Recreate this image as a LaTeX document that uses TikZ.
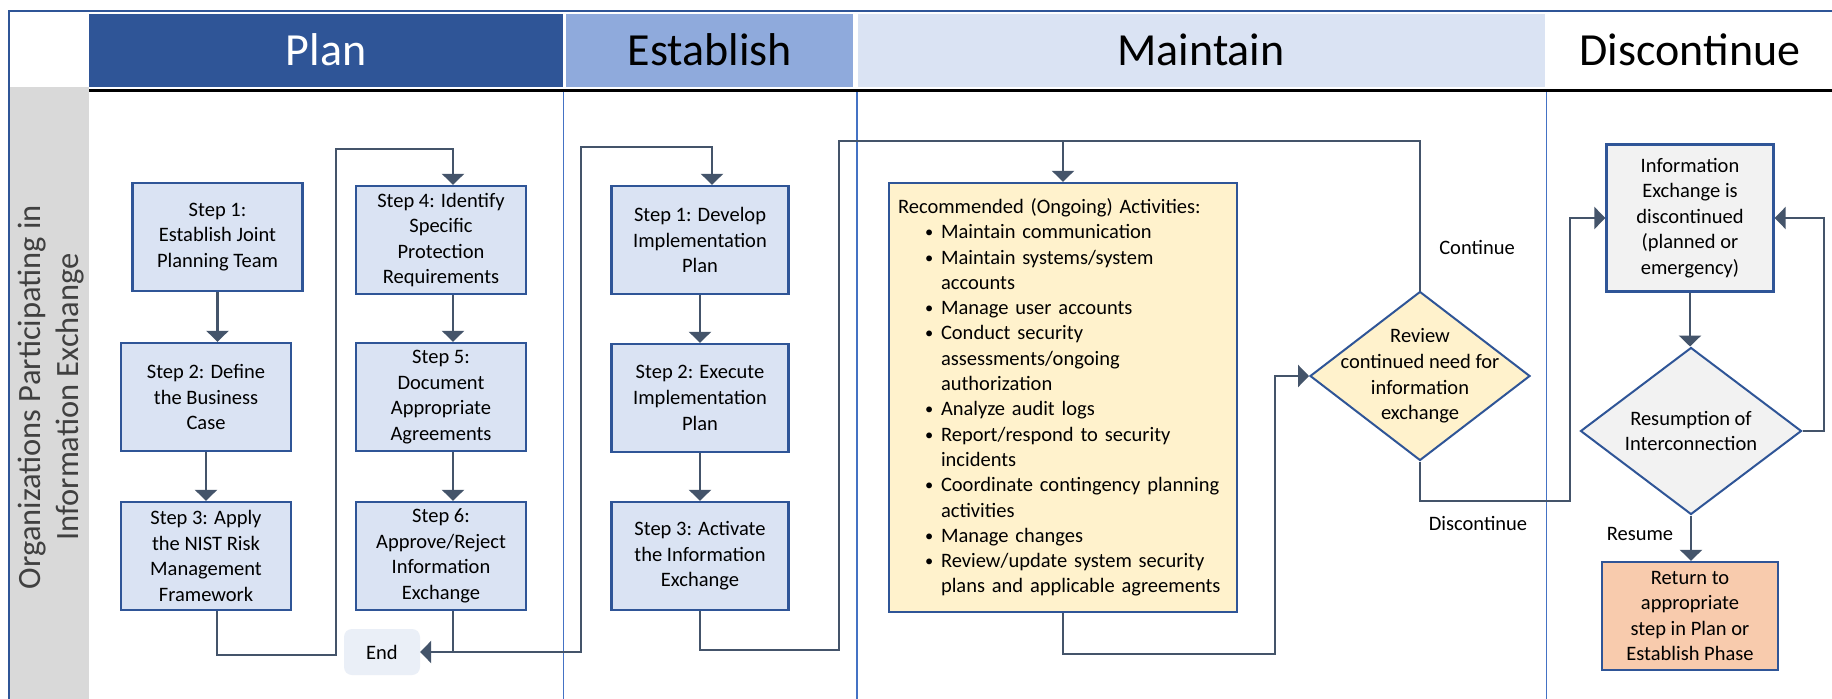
\documentclass[tikz,border=0pt]{standalone}
\usepackage{fontspec}
\setmainfont{Carlito}
\usetikzlibrary{arrows.meta,shapes.geometric,calc}
\definecolor{hdrdark}{HTML}{2F5597}
\definecolor{hdrmid}{HTML}{8FAADC}
\definecolor{hdrlight}{HTML}{DAE3F3}
\definecolor{boxfill}{HTML}{DAE3F3}
\definecolor{boxline}{HTML}{2F5597}
\definecolor{connclr}{HTML}{44546A}
\definecolor{yel}{HTML}{FFF2CC}
\definecolor{gryfill}{HTML}{F2F2F2}
\definecolor{peach}{HTML}{F8CBAD}
\definecolor{endfill}{HTML}{EAEFF7}
\definecolor{lanegray}{HTML}{D9D9D9}
\definecolor{divider}{HTML}{4472C4}
\newcommand{\bul}[1]{\hspace*{27pt}\makebox[16pt][l]{\raisebox{1pt}{\scalebox{0.8}{\textbullet}}}#1}
\newcommand{\cont}[1]{\hspace*{43pt}#1}
\begin{document}
\begin{tikzpicture}[x=1pt,y=-1pt,
  stepbox/.style={draw=boxline, line width=2.4pt, fill=boxfill, minimum width=170pt, minimum height=108pt, inner sep=0pt, align=center, font=\fontsize{20.5}{25.6}\selectfont},
  endbox/.style={fill=endfill, rounded corners=8pt, minimum width=76pt, minimum height=46pt, inner sep=0pt, font=\fontsize{20.5}{25.6}\selectfont},
  mbox/.style={draw=boxline, line width=2.4pt, fill=yel, minimum width=348pt, minimum height=429pt, text width=330pt, inner xsep=9pt, inner ysep=0pt, align=left, font=\fontsize{20.5}{25.3}\selectfont},
  diam/.style={diamond, draw=boxline, line width=2pt, inner sep=0pt},
  connector/.style={draw=connclr, line width=2.5pt, -{Triangle[width=22pt,length=11pt]}},
  plainline/.style={draw=connclr, line width=2.5pt},
  lbl/.style={font=\fontsize{20.5}{25.6}\selectfont, inner sep=0pt},
  hdr/.style={font=\fontsize{46}{55}\selectfont, inner sep=0pt, anchor=base}
]
\useasboundingbox (0,0) rectangle (1832,699);
\fill[white] (0,0) rectangle (1832,699);
% lane
\fill[lanegray] (8,87) rectangle (89,699);
% header cells
\fill[hdrdark] (89,14) rectangle (563,87);
\fill[hdrmid] (566,14) rectangle (853,87);
\fill[hdrlight] (858,14) rectangle (1545,87);
\node[hdr, text=white] (hplan) at (326,65) {Plan};
\node[hdr] (hest) at (710,65) {Establish};
\node[hdr] (hmain) at (1201,65) {Maintain};
\node[hdr] (hdisc) at (1690,65) {Discontinue};
% rules
\draw[black, line width=2.5pt] (89,90.5) -- (1832,90.5);
\draw[divider, line width=1.2pt] (563.5,92) -- (563.5,699);
\draw[divider, line width=1.2pt] (857,92) -- (857,699);
\draw[divider, line width=1.2pt] (1546.5,92) -- (1546.5,699);
\draw[boxline, line width=1.5pt] (9,699) -- (9,11) -- (1832,11);
% lane label
\node[rotate=90, align=center, font=\fontsize{32.5}{38}\selectfont, text=black!75] (lane) at (51,397) {Organizations Participating in\\Information Exchange};
% Plan boxes
\node[stepbox] (p1) at (217.5,237) {Step 1:\\Establish Joint\\Planning Team};
\node[stepbox] (p2) at (206,397) {Step 2: Define\\the Business\\Case};
\node[stepbox] (p3) at (206,556) {Step 3: Apply\\the NIST Risk\\Management\\Framework};
\node[stepbox] (p4) at (441,240) {Step 4: Identify\\Specific\\Protection\\Requirements};
\node[stepbox] (p5) at (441,397) {Step 5:\\Document\\Appropriate\\Agreements};
\node[stepbox] (p6) at (441,556) {Step 6:\\Approve/Reject\\Information\\Exchange};
\node[endbox] (end) at (382,652) {End};
% Establish boxes
\node[stepbox, minimum width=177pt] (e1) at (700,240) {Step 1: Develop\\Implementation\\Plan};
\node[stepbox, minimum width=177pt] (e2) at (700,398) {Step 2: Execute\\Implementation\\Plan};
\node[stepbox, minimum width=177pt] (e3) at (700,556) {Step 3: Activate\\the Information\\Exchange};
% Maintain
\node[mbox] (mt) at (1063,397.5) {Recommended (Ongoing) Activities:\\
\bul{Maintain communication}\\
\bul{Maintain systems/system}\\
\cont{accounts}\\
\bul{Manage user accounts}\\
\bul{Conduct security}\\
\cont{assessments/ongoing}\\
\cont{authorization}\\
\bul{Analyze audit logs}\\
\bul{Report/respond to security}\\
\cont{incidents}\\
\bul{Coordinate contingency planning}\\
\cont{activities}\\
\bul{Manage changes}\\
\bul{Review/update system security}\\
\cont{plans and applicable agreements}};
\node[diam, fill=yel, minimum width=220pt, minimum height=169pt] (rev) at (1420,376) {};
\node[lbl, align=center] (revt) at (rev.center) {Review\\continued need for\\information\\exchange};
\node[lbl] (lcont) at (1477,247) {Continue};
\node[lbl] (ldisc) at (1478,523) {Discontinue};
% Discontinue
\node[stepbox, fill=gryfill, minimum width=167pt, minimum height=147pt] (info) at (1690,218) {Information\\Exchange is\\discontinued\\(planned or\\emergency)};
\node[diam, fill=gryfill, minimum width=221pt, minimum height=167pt] (res) at (1691,431) {};
\node[lbl, align=center] (rest) at (res.center) {Resumption of\\Interconnection};
\node[lbl] (lres) at (1640,534) {Resume};
\node[stepbox, fill=peach, minimum width=176pt, minimum height=108pt] (ret) at (1690,616) {Return to\\appropriate\\step in Plan or\\Establish Phase};
% connectors Plan
\draw[connector] (p1.south) -- (p1.south |- p2.north);
\draw[connector] (p2.south) -- (p3.north);
\coordinate (a1) at (336,655);
\coordinate (a2) at (453,149);
\draw[connector] ([xshift=11pt]p3.south) |- (a1) |- (a2) -- (a2 |- p4.north);
\draw[connector] ([xshift=12pt]p4.south) -- ([xshift=12pt]p5.north);
\draw[connector] ([xshift=12pt]p5.south) -- ([xshift=12pt]p6.north);
\draw[connector] ([xshift=12pt]p6.south) |- (end.east);
\coordinate (j1) at ([xshift=12pt]p6.south |- end.east);
\coordinate (b1) at (581,147);
\draw[connector] (j1) -| (b1) -| ([xshift=12pt]e1.north);
% Establish
\draw[connector] (e1.south) -- (e2.north);
\draw[connector] (e2.south) -- (e3.north);
\coordinate (b2) at (839,650);
\coordinate (b3) at (1063,141);
\draw[connector] (e3.south) |- (b2) |- (b3) -- (b3 |- mt.north);
\draw[plainline] (rev.north) |- (b3);
\coordinate (b4) at (1275,654);
\draw[connector] (mt.south) |- (b4) |- (rev.west);
\coordinate (b5) at (1570,501);
\draw[connector] (rev.south) |- (b5) |- (info.west);
\draw[connector] (info.south) -- (info.south |- res.north);
\coordinate (b6) at (1824,431);
\draw[connector] (res.east) -- (b6) |- (info.east);
\draw[connector] (res.south) -- (res.south |- ret.north);
\end{tikzpicture}
\end{document}
